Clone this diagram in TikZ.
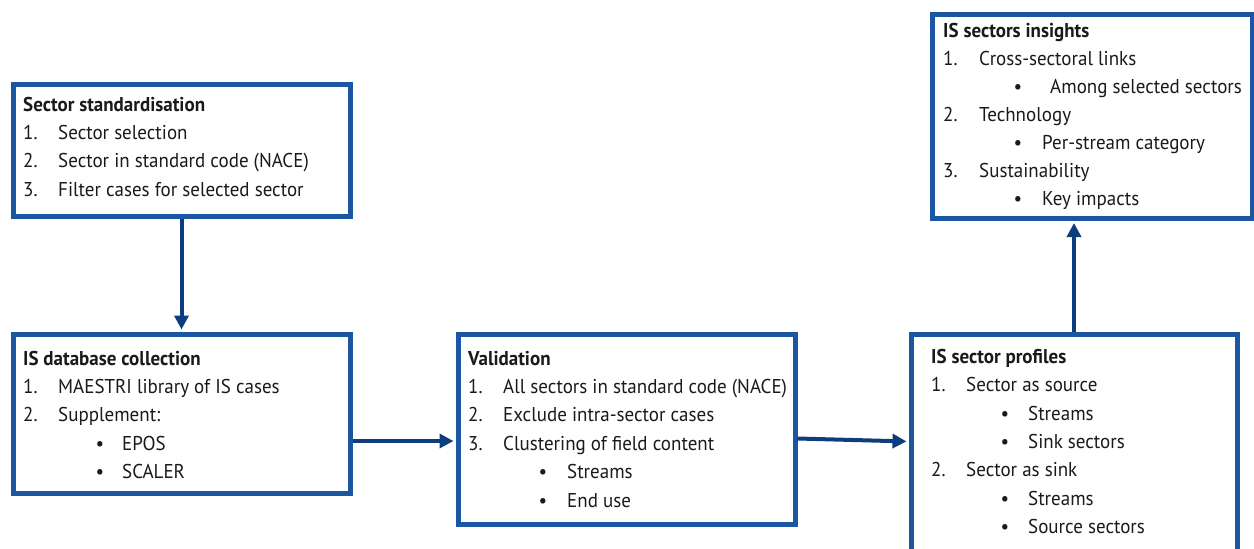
\documentclass[tikz,border=0pt]{standalone}
\usepackage{fontspec}
\setmainfont[FakeStretch=0.95]{PT Sans}
\usetikzlibrary{arrows.meta}
\definecolor{boxblue}{HTML}{1B56A3}
\definecolor{arrowblue}{HTML}{0E3D7E}
\definecolor{txtcol}{HTML}{1A1A1A}
\tikzset{
  box/.style={draw=boxblue, line width=5pt, fill=white, anchor=north west, inner sep=0pt},
  txt/.style={anchor=base west, inner sep=0pt, text=txtcol, font=\fontsize{20}{24}\selectfont},
  ttl/.style={txt, font=\fontsize{20}{24}\selectfont\bfseries},
  bul/.style={anchor=base, inner sep=0pt, text=txtcol, font=\fontsize{20}{24}\selectfont},
  arr/.style={draw=arrowblue, line width=4pt, -{Triangle[length=14pt,width=14pt]}, shorten >=2pt}
}
\begin{document}
\begin{tikzpicture}[x=1pt,y=-1pt]
\useasboundingbox (0,0) rectangle (1254,549);
% boxes
\node[box, minimum width=337pt, minimum height=132.5pt] (b1) at (10.5,81.5) {};
\node[box, minimum width=337pt, minimum height=159pt] (b2) at (10.5,331.5) {};
\node[box, minimum width=337pt, minimum height=190.5pt] (b3) at (455.5,331.5) {};
\node[box, minimum width=326.5pt, minimum height=217.5pt] (b4) at (908.5,332) {};
\node[box, minimum width=320.5pt, minimum height=204.5pt] (b5) at (929.5,11.5) {};
% box 1
\node[ttl] (t1) at (23,111.7) {Sector standardisation};
\node[txt] (n11) at (23,139) {1.};
\node[txt] (i11) at (58,139) {Sector selection};
\node[txt] (n12) at (23,167.8) {2.};
\node[txt] (i12) at (58,167.8) {Sector in standard code (NACE)};
\node[txt] (n13) at (23,196.5) {3.};
\node[txt] (i13) at (58,196.5) {Filter cases for selected sector};
% box 2
\node[ttl] (t2) at (23,365) {IS database collection};
\node[txt] (n21) at (23,393) {1.};
\node[txt] (i21) at (58,393) {MAESTRI library of IS cases};
\node[txt] (n22) at (23,421.5) {2.};
\node[txt] (i22) at (58,421.5) {Supplement:};
\node[bul] (p21) at (100,450) {\textbullet};
\node[txt] (s21) at (122,450) {EPOS};
\node[bul] (p22) at (100,478.5) {\textbullet};
\node[txt] (s22) at (122,478.5) {SCALER};
% box 3
\node[ttl] (t3) at (468,365) {Validation};
\node[txt] (n31) at (468,393) {1.};
\node[txt] (i31) at (503,393) {All sectors in standard code (NACE)};
\node[txt] (n32) at (468,421.5) {2.};
\node[txt] (i32) at (503,421.5) {Exclude intra-sector cases};
\node[txt] (n33) at (468,450) {3.};
\node[txt] (i33) at (503,450) {Clustering of field content};
\node[bul] (p31) at (543,478.5) {\textbullet};
\node[txt] (s31) at (567,478.5) {Streams};
\node[bul] (p32) at (543,507) {\textbullet};
\node[txt] (s32) at (567,507) {End use};
% box 4
\node[ttl] (t4) at (931,363) {IS sector profiles};
\node[txt] (n41) at (931,391.7) {1.};
\node[txt] (i41) at (966,391.7) {Sector as source};
\node[bul] (p41) at (1005,420) {\textbullet};
\node[txt] (s41) at (1028,420) {Streams};
\node[bul] (p42) at (1005,448.5) {\textbullet};
\node[txt] (s42) at (1028,448.5) {Sink sectors};
\node[txt] (n42) at (931,476.7) {2.};
\node[txt] (i42) at (966,476.7) {Sector as sink};
\node[bul] (p43) at (1005,505) {\textbullet};
\node[txt] (s43) at (1028,505) {Streams};
\node[bul] (p44) at (1005,533.5) {\textbullet};
\node[txt] (s44) at (1028,533.5) {Source sectors};
% box 5
\node[ttl] (t5) at (943,37) {IS sectors insights};
\node[txt] (n51) at (943,65) {1.};
\node[txt] (i51) at (979,65) {Cross-sectoral links};
\node[bul] (p51) at (1018,93) {\textbullet};
\node[txt] (s51) at (1050,93) {Among selected sectors};
\node[txt] (n52) at (943,121) {2.};
\node[txt] (i52) at (979,121) {Technology};
\node[bul] (p52) at (1018,149) {\textbullet};
\node[txt] (s52) at (1042,149) {Per-stream category};
\node[txt] (n53) at (943,177) {3.};
\node[txt] (i53) at (979,177) {Sustainability};
\node[bul] (p53) at (1018,205) {\textbullet};
\node[txt] (s53) at (1042,205) {Key impacts};
% connectors
\coordinate (y23) at (0,441);
\coordinate (y34a) at (0,438.5);
\coordinate (y34b) at (0,441.5);
\coordinate (x45) at (1074,0);
\draw[arr] (b1.south) -- (b2.north);
\draw[arr] (b2.east |- y23) -- (b3.west |- y23);
\draw[arr] (b3.east |- y34a) -- (b4.west |- y34b);
\draw[arr] (x45 |- b4.north) -- (x45 |- b5.south);
\end{tikzpicture}
\end{document}
